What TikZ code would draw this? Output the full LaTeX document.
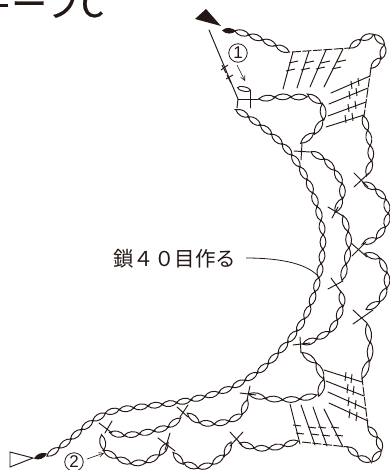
\documentclass[tikz,border=0pt]{standalone}
\usepackage{fontspec}
\usetikzlibrary{decorations.markings,arrows.meta}
\newfontfamily\jpfont{Noto Sans CJK JP}
\newfontfamily\ttlfont[FakeBold=0.6]{Noto Sans CJK JP}
\definecolor{ink}{HTML}{231815}
\newcommand{\chainp}[2]{%
  \pgfmathsetmacro\chainfrac{1/#1}%
  \pgfmathsetmacro\chainfirst{0.5/#1}%
  \pgfmathsetmacro\chainlast{1-0.25/#1}%
  \path[chainline] plot[smooth,tension=.6] coordinates {#2};}
\newcommand{\stitchx}[2]{\draw[thread] #1; \draw[thread] #2;}
\tikzset{
  thread/.style={draw=ink,line width=0.95pt,line cap=round},
  edgedash/.style={draw=ink,line width=0.95pt,dash pattern=on 9pt off 1.5pt},
  tick/.style={draw=ink,line width=0.95pt},
  leader/.style={draw=ink,line width=0.8pt},
  smallarrow/.style={draw=ink,line width=0.6pt,-{Straight Barb[length=4.5pt,width=4.5pt]}},
  chainline/.style={decorate,decoration={markings,
    mark=between positions \chainfirst and \chainlast step \chainfrac with {
      \pgfmathsetmacro\hl{\pgfdecoratedpathlength*\chainfrac/2+0.4}
      \draw[draw=ink,line width=0.95pt] (-\hl pt,0pt) .. controls (-3pt,3.9pt) and (3pt,3.9pt) .. (\hl pt,0pt)
        .. controls (3pt,-3.9pt) and (-3pt,-3.9pt) .. cycle;}}},
  label/.style={text=ink,inner sep=0pt,font=\jpfont\fontsize{20.5}{24}\selectfont},
  title/.style={text=ink,inner sep=0pt,anchor=base west,font=\ttlfont\fontsize{36}{40}\selectfont},
  circnum/.style={draw=ink,circle,line width=0.8pt,minimum size=18.5pt,inner sep=0pt,text=ink,font=\fontspec{Liberation Sans}\fontsize{17}{17}\selectfont},
}
\begin{document}
\begin{tikzpicture}[x=1pt,y=-1pt]
\useasboundingbox (0,0) rectangle (389,470);
\fill[white] (0,0) rectangle (389,470);
\begin{scope}
\clip (0,0) rectangle (389,470);
\node[title] (ttl) at (11,17) {ーフC};
\fill[ink] (0,3.8) rectangle (8,6.8);
\end{scope}

% top start mark
\fill[ink] (195,19) -- (206,9) -- (221,26) -- cycle;
\fill[ink] (222,30.5) .. controls (226,26.5) and (232,27.5) .. (236,31) .. controls (232,34.5) and (226,34.5) .. (222,30.5) -- cycle;
\chainp{4}{(235,31) (252,36) (270,43) (289,52)}

% top edge and fan
\draw[edgedash] (292,52) -- (350,48);
\chainp{5}{(350,48) (361,40) (373,36) (382,43) (382,55) (371,68)}
\draw[thread] (293,52) -- (283,89);
\draw[thread] (309,51) -- (297,88);
\draw[thread] (326,50) -- (310,87);
\draw[thread] (343,49) -- (324,87);
\foreach \a/\b in {290/61,287/69,306/61,302/68,322/61,317/67,338/60,333/67}{
  \draw[tick] (\a-1,\b+2) -- (\a+8,\b);
}
\draw[edgedash] (371,68) -- (364,116);
\draw[thread] (331,93) -- (370,76);
\draw[thread] (329,104) -- (368,88);
\draw[thread] (328,116) -- (366,102);
\draw[thread] (326,127) -- (364,115);
\foreach \a/\b in {351/85,358/82,349/95,356/92,348/108,355/105,345/119,352/117}{
  \draw[tick] (\a,\b-4) -- (\a+1,\b+4);
}

% left line, ring and (1)
\draw[thread] (209,30) -- (238,99) -- (237,108);
\draw[tick] (221,70) -- (228,65);
\draw[tick] (222,65) -- (226,73);
\draw[tick] (226,79) -- (233,75);
\draw[tick] (227,75) -- (231,83);
\node[circnum] (one) at (238,53) {1};
\draw[smallarrow] (237,65) -- (245,81);
\draw[thread] (244,89) ellipse [x radius=6.5pt,y radius=2.2pt,rotate=-12];
\draw[thread] (238,99) -- (258,99);
\draw[thread] (250,90) -- (250,108);

% inner round
\chainp{7}{(259,99) (280,97) (297,97) (313,98) (323,111) (318,128) (305,140) (302,144)}
\stitchx{(294,151) -- (310,152)}{(302,143) -- (301,160)}
\chainp{5}{(311,152) (327,162) (340,180) (342,197) (335,212)}
\stitchx{(328,207) -- (343,216)}{(332,218) -- (338,207)}
\chainp{4}{(343,216) (348,233) (348,253) (342,280)}
\stitchx{(328,289) -- (343,281)}{(331,278) -- (341,292)}
\chainp{5}{(340,292) (342,305) (333,327) (320,337) (303,344)}
\stitchx{(293,345) -- (310,343)}{(300,337) -- (301,353)}
\chainp{7}{(302,353) (315,363) (322,378) (318,393) (297,399) (273,399) (257,396) (249,393)}
\stitchx{(240,393) -- (256,395)}{(250,386) -- (247,400)}
\chainp{5}{(247,400) (240,415) (220,423) (200,422) (188,413)}
\stitchx{(177,407) -- (188,417)}{(188,405) -- (180,417)}
\chainp{5}{(180,418) (167,427) (143,433) (123,435) (110,432)}
\stitchx{(99,423) -- (112,433)}{(112,421) -- (105,433)}

% outer round
\chainp{6}{(102,435) (105,450) (118,458) (133,463) (150,460) (163,450) (166,442)}
\draw[thread] (165,450) -- (170,433);
\draw[thread] (158,438) -- (175,451);
\chainp{5}{(175,452) (180,460) (197,467) (213,463) (226,452) (230,442)}
\stitchx{(230,432) -- (242,445)}{(243,432) -- (230,446)}
\chainp{4}{(240,443) (257,448) (277,447) (298,441)}
\draw[edgedash] (302,442) -- (348,447);
\chainp{5}{(348,447) (360,457) (372,460) (380,450) (377,438) (368,427)}
\draw[edgedash] (368,427) -- (362,378);
\foreach \x/\y/\u/\v in {290/404/300/444,301/405/315/445,313/407/327/446,324/409/343/447}{
  \draw[thread] (\x,\y) -- (\u,\v);
}
\foreach \a/\b in {293/425,296/433,308/427,311/434,318/427,322/435,331/427,335/435}{
  \draw[tick] (\a,\b) -- (\a+8,\b+1);
}
\draw[thread] (324,370) -- (362,382);
\draw[thread] (326,381) -- (364,396);
\draw[thread] (328,392) -- (366,409);
\draw[thread] (329,403) -- (368,421);
\foreach \a/\b in {345/377,351/379,347/389,353/391,348/402,355/405,349/414,356/417}{
  \draw[tick] (\a+1,\b-5) -- (\a,\b+4);
}
\chainp{3}{(362,378) (370,353) (367,324)}
\stitchx{(353,310) -- (367,323)}{(373,310) -- (353,324)}
\chainp{5}{(366,309) (380,300) (387,280) (380,260) (365,254)}
\stitchx{(352,256) -- (366,242)}{(351,243) -- (367,257)}
\chainp{6}{(363,243) (377,237) (387,220) (385,200) (373,188) (363,183)}
\stitchx{(354,173) -- (368,187)}{(354,187) -- (369,173)}
\chainp{4}{(366,175) (371,160) (368,133) (363,116)}

% long chain of 40
\chainp{38}{(236,110) (250,118) (270,133) (290,153) (307,180) (318,210) (323,240) (318,280) (305,317) (287,343) (263,368) (240,383) (217,393) (180,402) (140,407) (110,412) (90,423) (67,442) (47,456)}
\fill[ink] (34,458.5) .. controls (37,453) and (43,452) .. (47,453.5) .. controls (45,458.5) and (38,461) .. (34,458.5) -- cycle;
\draw[thread] (10,452) -- (33,458) -- (10,467) -- cycle;
\node[circnum] (two) at (74,462) {2};
\draw[smallarrow] (87,459) -- (104,453);

% label and leader
\node[label,anchor=west] (cap) at (113,259) {鎖４０目作る};
\coordinate (leadstart) at (246,258);
\coordinate (leadend) at (318,276);
\draw[leader] (leadstart) .. controls (275,258) and (305,262) .. (leadend);
\end{tikzpicture}
\end{document}
